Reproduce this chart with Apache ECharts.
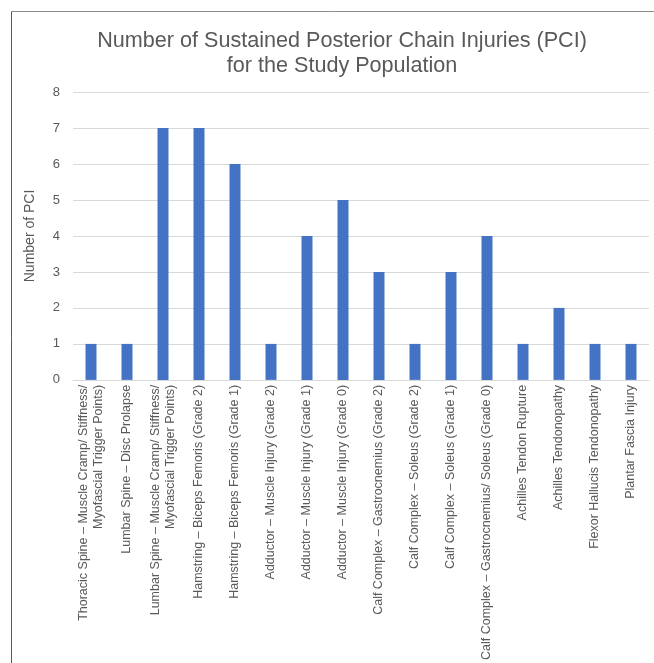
<!DOCTYPE html>
<html><head><meta charset="utf-8">
<script src="https://cdn.jsdelivr.net/npm/echarts@6/dist/echarts.min.js"></script>
<style>html,body{margin:0;padding:0;background:#fff}#c{width:654px;height:663px}</style>
</head><body><div id="c"></div>
<script>
const titleText = "Number of Sustained Posterior Chain Injuries (PCI)\nfor the Study Population";
const yAxisName = "Number of PCI";
const categories = [
  "Thoracic Spine – Muscle Cramp/ Stiffness/\nMyofascial Trigger Points)",
  "Lumbar Spine – Disc Prolapse",
  "Lumbar Spine – Muscle Cramp/ Stiffness/\nMyofascial Trigger Points)",
  "Hamstring – Biceps Femoris (Grade 2)",
  "Hamstring – Biceps Femoris (Grade 1)",
  "Adductor – Muscle Injury (Grade 2)",
  "Adductor – Muscle Injury (Grade 1)",
  "Adductor – Muscle Injury (Grade 0)",
  "Calf Complex – Gastrocnemius (Grade 2)",
  "Calf Complex – Soleus (Grade 2)",
  "Calf Complex – Soleus (Grade 1)",
  "Calf Complex – Gastrocnemius/ Soleus (Grade 0)",
  "Achilles Tendon Rupture",
  "Achilles Tendonopathy",
  "Flexor Hallucis Tendonopathy",
  "Plantar Fascia Injury"
];
const values = [1, 1, 7, 7, 6, 1, 4, 5, 3, 1, 3, 4, 1, 2, 1, 1];

const chart = echarts.init(document.getElementById('c'), null, {renderer: 'canvas'});
const font = "'Liberation Sans', Arial, sans-serif";
chart.setOption({
  animation: false,
  textStyle: {fontFamily: font},
  title: {
    text: titleText,
    left: 337, top: 24, textAlign: 'center',
    textStyle: {fontSize: 21.6, fontWeight: 'normal', color: '#595959', lineHeight: 25, fontFamily: font}
  },
  graphic: [
    {type: 'line', shape: {x1: 11.5, y1: 11.5, x2: 660, y2: 11.5}, style: {stroke: '#8c8c8c', lineWidth: 1}},
    {type: 'line', shape: {x1: 11.5, y1: 11.5, x2: 11.5, y2: 670}, style: {stroke: '#595959', lineWidth: 1}}
  ],
  grid: {left: 73, right: 5, top: 92, bottom: 283, containLabel: false},
  xAxis: {
    type: 'category',
    data: categories,
    axisTick: {show: false},
    axisLine: {lineStyle: {color: '#d9d9d9'}},
    axisLabel: {rotate: 90, interval: 0, color: '#595959', fontSize: 12.5, lineHeight: 15, margin: 5, fontFamily: font}
  },
  yAxis: {
    type: 'value', min: 0, max: 8, interval: 1,
    name: yAxisName, nameLocation: 'middle', nameGap: 36,
    nameTextStyle: {color: '#595959', fontSize: 14, fontFamily: font},
    axisLine: {show: false}, axisTick: {show: false},
    axisLabel: {color: '#595959', fontSize: 13, margin: 13, fontFamily: font},
    splitLine: {lineStyle: {color: '#d9d9d9'}}
  },
  series: [{
    type: 'bar', data: values, barWidth: 11,
    itemStyle: {color: '#4472C4'}
  }]
});
</script></body></html>
